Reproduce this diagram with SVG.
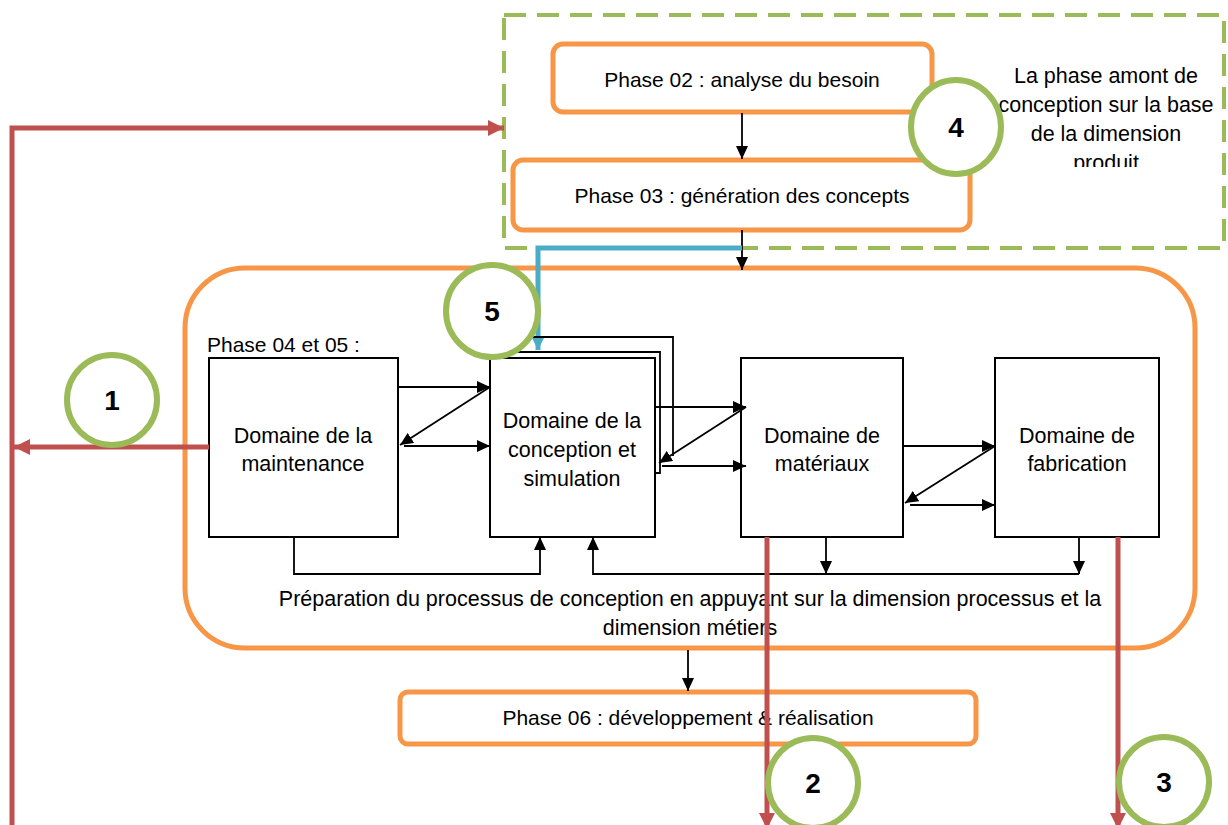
<svg xmlns="http://www.w3.org/2000/svg" width="1228" height="825" viewBox="0 0 1228 825">
<style>
text{font-family:"Liberation Sans",Arial,sans-serif;fill:#000}
.t{font-size:21px;text-anchor:middle}
.d{font-size:21.5px;text-anchor:middle}
.num{font-size:28px;font-weight:bold;text-anchor:middle}
.ph{fill:#fff;stroke:#F79646;stroke-width:5}
.box{fill:#fff;stroke:#000;stroke-width:2}
.blk{fill:none;stroke:#000;stroke-width:1.8}
.red{fill:none;stroke:#C0504D;stroke-width:5}
.ring{fill:#fff;stroke:#9BBB59;stroke-width:6}
</style>
<defs>
<marker id="ab" markerUnits="userSpaceOnUse" markerWidth="13" markerHeight="12" refX="13" refY="6" orient="auto"><path d="M0,0L13,6L0,12z" fill="#000"/></marker>
<marker id="ar" markerUnits="userSpaceOnUse" markerWidth="16" markerHeight="16" refX="16" refY="8" orient="auto"><path d="M0,0L16,8L0,16z" fill="#C0504D"/></marker>
<marker id="au" markerUnits="userSpaceOnUse" markerWidth="14" markerHeight="14" refX="14" refY="7" orient="auto"><path d="M0,0L14,7L0,14z" fill="#4BACC6"/></marker>
<clipPath id="clipTxt"><rect x="990" y="50" width="230" height="117"/></clipPath>
</defs>

<g id="amont">
<rect x="504" y="15" width="720" height="233" fill="none" stroke="#9BBB59" stroke-width="4" stroke-dasharray="22,11"/>
<g clip-path="url(#clipTxt)">
<text class="d" x="1106" y="83">La phase amont de</text>
<text class="d" x="1106" y="112">conception sur la base</text>
<text class="d" x="1106" y="141">de la dimension</text>
<text class="d" x="1106" y="170">produit</text>
</g>
</g>

<g id="phase04">
<rect x="185" y="268" width="1010" height="380" rx="60" fill="none" stroke="#F79646" stroke-width="5"/>
<text x="207" y="352" style="font-size:21px">Phase 04 et 05 :</text>
<text class="d" x="690" y="606">Préparation du processus de conception en appuyant sur la dimension processus et la</text>
<text class="d" x="690" y="635">dimension métiers</text>
</g>

<g id="phase02"><rect class="ph" x="553" y="44" width="379" height="68" rx="10"/><text class="t" x="742" y="87">Phase 02 : analyse du besoin</text></g>
<g id="phase03"><rect class="ph" x="513" y="160" width="457" height="70" rx="10"/><text class="t" x="742" y="203">Phase 03 : génération des concepts</text></g>
<g id="phase06"><rect class="ph" x="400" y="692" width="576" height="52" rx="8"/><text class="t" x="688" y="725">Phase 06 : développement &amp; réalisation</text></g>

<g id="maintenance"><rect class="box" x="209" y="358" width="189" height="179"/><text class="d" x="303" y="443">Domaine de la</text><text class="d" x="303" y="471">maintenance</text></g>
<g id="conception"><rect class="box" x="490" y="358" width="165" height="179"/><text class="d" x="572" y="428">Domaine de la</text><text class="d" x="572" y="457">conception et</text><text class="d" x="572" y="486">simulation</text></g>
<g id="materiaux"><rect class="box" x="741" y="358" width="162" height="179"/><text class="d" x="822" y="443">Domaine de</text><text class="d" x="822" y="471">matériaux</text></g>
<g id="fabrication"><rect class="box" x="995" y="358" width="164" height="179"/><text class="d" x="1077" y="443">Domaine de</text><text class="d" x="1077" y="471">fabrication</text></g>

<g id="connectors">
<path class="blk" d="M742,113V159" marker-end="url(#ab)"/>
<path class="blk" d="M742,230V270" marker-end="url(#ab)"/>
<path class="blk" d="M688,650V691" marker-end="url(#ab)"/>
<path d="M742,248H538V350" fill="none" stroke="#4BACC6" stroke-width="5" marker-end="url(#au)"/>
<path class="blk" d="M503,358V352H660V473H655"/>
<path class="blk" d="M515,352V337H673V456"/>
<path class="blk" d="M398,387H490" marker-end="url(#ab)"/>
<path class="blk" d="M490,387L400,445" marker-end="url(#ab)"/>
<path class="blk" d="M404,446H490" marker-end="url(#ab)"/>
<path class="blk" d="M655,407H746" marker-end="url(#ab)"/>
<path class="blk" d="M746,407L659,463" marker-end="url(#ab)"/>
<path class="blk" d="M662,466H746" marker-end="url(#ab)"/>
<path class="blk" d="M903,446H995" marker-end="url(#ab)"/>
<path class="blk" d="M995,446L905,503" marker-end="url(#ab)"/>
<path class="blk" d="M910,505H995" marker-end="url(#ab)"/>
<path class="blk" d="M294,537V574H540V537" marker-end="url(#ab)"/>
<path class="blk" d="M1079,574H593V537" marker-end="url(#ab)"/>
<path class="blk" d="M826,537V574" marker-end="url(#ab)"/>
<path class="blk" d="M1079,537V574" marker-end="url(#ab)"/>
<path class="red" d="M209,447H14" marker-end="url(#ar)"/>
<path class="red" d="M12,825V128H504" marker-end="url(#ar)"/>
<path class="red" d="M767,537V829" marker-end="url(#ar)"/>
<path class="red" d="M1118,537V829" marker-end="url(#ar)"/>
</g>

<g id="c1"><circle class="ring" cx="112" cy="400" r="45"/><text class="num" x="112" y="410">1</text></g>
<g id="c2"><circle class="ring" cx="813" cy="783" r="45"/><text class="num" x="813" y="793">2</text></g>
<g id="c3"><circle class="ring" cx="1164" cy="782" r="45"/><text class="num" x="1164" y="792">3</text></g>
<g id="c4"><ellipse class="ring" cx="956" cy="127" rx="45" ry="47"/><text class="num" x="956" y="137">4</text></g>
<g id="c5"><circle class="ring" cx="492" cy="311" r="46"/><text class="num" x="492" y="321">5</text></g>
</svg>
